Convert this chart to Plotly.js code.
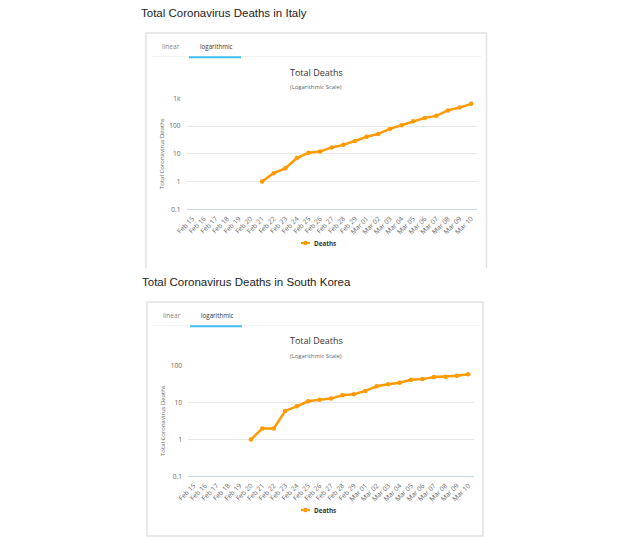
<!DOCTYPE html>
<html>
<head>
<meta charset="utf-8">
<script src="https://cdn.plot.ly/plotly-3.0.1.min.js"></script>
<style>
  html, body { margin: 0; padding: 0; background: #fff; }
  #chart { width: 640px; height: 537px; }
</style>
</head>
<body>
<div id="chart"></div>
<script>
// categories shared by both charts
const dates = ['Feb 15', 'Feb 16', 'Feb 17', 'Feb 18', 'Feb 19', 'Feb 20', 'Feb 21', 'Feb 22',
    'Feb 23', 'Feb 24', 'Feb 25', 'Feb 26', 'Feb 27', 'Feb 28', 'Feb 29', 'Mar 01', 'Mar 02',
    'Mar 03', 'Mar 04', 'Mar 05', 'Mar 06', 'Mar 07', 'Mar 08', 'Mar 09', 'Mar 10'];

// total deaths, null where no value is plotted
const italyDeaths = [null, null, null, null, null, null, 1, 2, 3, 7, 11, 12, 17, 21, 29, 41, 52,
    79, 107, 148, 197, 233, 366, 463, 631];
const koreaDeaths = [null, null, null, null, null, 1, 2, 2, 6, 8, 11, 12, 13, 16, 17, 21, 28,
    32, 35, 42, 44, 50, 51, 54, 60];

const italyTicks = [0.1, 1, 10, 100, 1000];
const italyTickText = ['0.1', '1', '10', '100', '1k'];
const koreaTicks = [0.1, 1, 10, 100];
const koreaTickText = ['0.1', '1', '10', '100'];

const W = 640, H = 537;
const px = x => x / W;
const py = y => 1 - y / H;

const ORANGE = '#ff9a00';
const CHART_FONT = '"Open Sans", "DejaVu Sans", sans-serif';
const PAGE_FONT = '"Liberation Sans", Arial, sans-serif';

function seriesTrace(values, xa, ya) {
    return {
        x: dates, y: values,
        xaxis: xa, yaxis: ya,
        type: 'scatter', mode: 'lines+markers',
        name: 'Deaths',
        connectgaps: false,
        line: { color: ORANGE, width: 2.5 },
        marker: { color: ORANGE, size: 4.5 },
        showlegend: false,
        hoverinfo: 'skip',
    };
}

function xAxis(left, right, anchor) {
    return {
        domain: [px(left), px(right)],
        anchor,
        type: 'category',
        categoryorder: 'array', categoryarray: dates,
        range: [-0.5, dates.length - 0.5],
        tickangle: -45,
        tickfont: { family: CHART_FONT, size: 6.7, color: '#666' },
        showgrid: false, zeroline: false,
        showline: true, linecolor: '#ccd6eb', linewidth: 1,
        ticks: '', ticklabelstandoff: 2,
        fixedrange: true,
    };
}

function yAxis(top, bottom, range, vals, text, anchor) {
    return {
        domain: [py(bottom), py(top)],
        anchor,
        type: 'log',
        range,
        tickvals: vals, ticktext: text,
        tickfont: { family: CHART_FONT, size: 6.5, color: '#666' },
        gridcolor: '#e8e8e8', gridwidth: 1,
        zeroline: false, showline: false,
        ticks: '', ticklabelstandoff: 5,
        fixedrange: true,
    };
}

function note(text, x, y, size, color, opts) {
    return Object.assign({
        text, x: px(x), y: py(y), xref: 'paper', yref: 'paper',
        showarrow: false, xanchor: 'center', yanchor: 'middle',
        font: { family: CHART_FONT, size, color },
    }, opts || {});
}

function line(x0, y0, x1, y1, color, width) {
    return { type: 'line', xref: 'paper', yref: 'paper',
        x0: px(x0), y0: py(y0), x1: px(x1), y1: py(y1),
        line: { color, width } };
}

// one card: tabs, titles, legend
function cardDecor(tabY, titleY, subY, axisTitleX, axisTitleY, legendY, tabOffset) {
    const ann = [
        note('linear', 171 + tabOffset, tabY, 6.6, '#888'),
        note('logarithmic', 216 + tabOffset, tabY, 6.2, '#333'),
        note('Total Deaths', 316, titleY, 9, '#333'),
        note('(Logarithmic Scale)', 316, subY, 5.9, '#666'),
        note('Total Coronavirus Deaths', axisTitleX, axisTitleY, 6, '#666', { textangle: -90 }),
        note('<b>Deaths</b>', 312, legendY, 6.3, '#333', { xanchor: 'left' }),
    ];
    const shp = [
        line(152, tabY + 10, 481, tabY + 10, '#efefef', 1),
        line(189 + tabOffset, tabY + 10.5, 241 + tabOffset, tabY + 10.5, '#3fc0f3', 2),
        line(301, legendY, 310, legendY, ORANGE, 2),
        { type: 'circle', xref: 'paper', yref: 'paper',
          x0: px(303.3), x1: px(307.7), y0: py(legendY + 2.2), y1: py(legendY - 2.2),
          fillcolor: ORANGE, line: { width: 0 } },
    ];
    return { ann, shp };
}

const italy = cardDecor(46.7, 72.5, 87.5, 162, 154, 243, 0);
const korea = cardDecor(315.7, 340.5, 356, 163, 421, 510, 1);

const annotations = [
    note('Total Coronavirus Deaths in Italy', 139, 13.3, 11.5, '#222',
        { xanchor: 'left', font: { family: PAGE_FONT, size: 11.5, color: '#222' } }),
    note('Total Coronavirus Deaths in South Korea', 140, 281.7, 11.5, '#222',
        { xanchor: 'left', font: { family: PAGE_FONT, size: 11.5, color: '#222' } }),
    ...italy.ann, ...korea.ann,
];

const shapes = [
    // Italy card: bottom edge is cut off in the picture
    { type: 'path', xref: 'paper', yref: 'paper',
      path: `M ${px(146)} ${py(268)} L ${px(146)} ${py(33)} L ${px(486.5)} ${py(33)} L ${px(486.5)} ${py(268)}`,
      line: { color: '#e2e2e2', width: 1.5 } },
    { type: 'rect', xref: 'paper', yref: 'paper',
      x0: px(147), y0: py(302), x1: px(483), y1: py(536),
      line: { color: '#e2e2e2', width: 1.5 } },
    ...italy.shp, ...korea.shp,
];

const traces = [
    seriesTrace(italyDeaths, 'x', 'y'),
    seriesTrace(koreaDeaths, 'x2', 'y2'),
];

const layout = {
    width: W, height: H,
    margin: { l: 0, r: 0, t: 0, b: 0 },
    paper_bgcolor: '#fff', plot_bgcolor: '#fff',
    showlegend: false,
    xaxis: xAxis(186.5, 477, 'y'),
    yaxis: yAxis(98.3, 209.3, [-1, 3], italyTicks, italyTickText, 'x'),
    xaxis2: xAxis(188, 474, 'y2'),
    yaxis2: yAxis(366, 476.3, [-1, 2], koreaTicks, koreaTickText, 'x2'),
    annotations,
    shapes,
};

Plotly.newPlot('chart', traces, layout, { displayModeBar: false, staticPlot: true });
</script>
</body>
</html>
